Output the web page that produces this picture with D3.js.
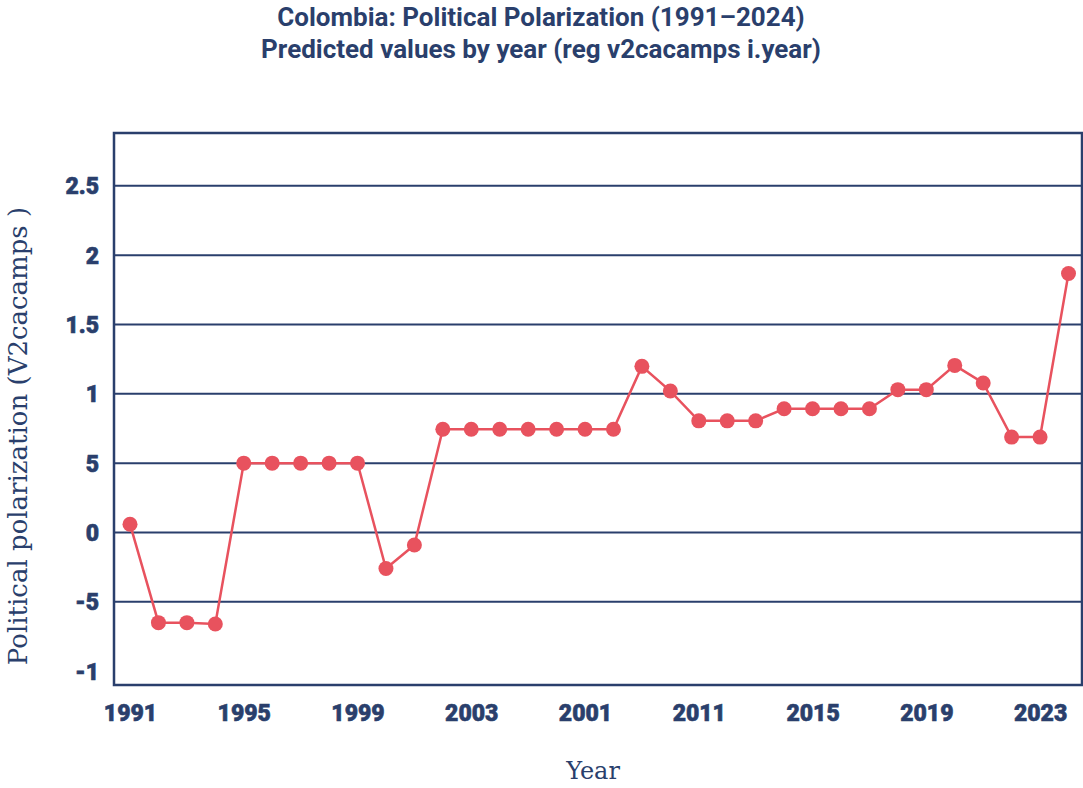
<!DOCTYPE html>
<html><head><meta charset="utf-8">
<script src="https://cdn.jsdelivr.net/npm/d3@7"></script>
<style>body{margin:0;background:#fff}</style>
</head><body>
<svg id="c" width="1083" height="788"></svg>
<script>
const years = d3.range(1991, 2025);
const values = [0.06, -0.65, -0.65, -0.66, 0.50, 0.50, 0.50, 0.50, 0.50, -0.26, -0.09,
  0.745, 0.745, 0.745, 0.745, 0.745, 0.745, 0.745, 1.198, 1.02, 0.805, 0.805, 0.805,
  0.892, 0.892, 0.892, 0.892, 1.03, 1.03, 1.205, 1.078, 0.688, 0.688, 1.868];
const xTickValues = [1991, 1995, 1999, 2003, 2007, 2011, 2015, 2019, 2023];
const xTickLabels = ["1991", "1995", "1999", "2003", "2001", "2011", "2015", "2019", "2023"];
const yTickValues = [2.5, 2, 1.5, 1, 0.5, 0, -0.5, -1];
const yTickLabels = ["2.5", "2", "1.5", "1", "5", "0", "-5", "-1"];
const gridValues = [2.5, 2, 1.5, 1, 0.5, 0, -0.5];
const titleLines = ["Colombia: Political Polarization (1991\u20132024)", "Predicted values by year (reg v2cacamps i.year)"];

const navy = "#2a3f6c", red = "#e8525e";
const svg = d3.select("#c");
const L = 114, R = 1082, T = 133, B = 685;
const x = d3.scaleLinear().domain([1991, 2024]).range([130, 1068.5]);
const y = d3.scaleLinear().domain([0, 2.5]).range([532.5, 185.8]);

// titles
svg.selectAll("text.title").data(titleLines).join("text")
  .attr("class", "title")
  .attr("x", 541).attr("y", (d, i) => 26 + i * 32)
  .attr("text-anchor", "middle")
  .attr("font-family", "Roboto, sans-serif")
  .attr("font-weight", 700).attr("font-size", 26)
  .attr("fill", navy).text(d => d);

// grid
svg.append("g").selectAll("line").data(gridValues).join("line")
  .attr("x1", L).attr("x2", R)
  .attr("y1", d => y(d)).attr("y2", d => y(d))
  .attr("stroke", navy).attr("stroke-width", 2);

// frame
svg.append("rect").attr("x", L).attr("y", T).attr("width", R - L).attr("height", B - T)
  .attr("fill", "none").attr("stroke", navy).attr("stroke-width", 2.5);

// y axis
const yAxis = d3.axisLeft(y).tickValues(yTickValues).tickSize(0).tickPadding(0)
  .tickFormat((d, i) => yTickLabels[i]);
const gy = svg.append("g").attr("transform", `translate(${L - 15},0)`).call(yAxis);
gy.select(".domain").remove();
gy.selectAll("text").attr("font-family", "Roboto, sans-serif").attr("font-weight", 900)
  .attr("font-size", 23).attr("fill", navy).attr("stroke", navy).attr("stroke-width", 0.6)
  .attr("dy", "0.35em");

// x axis
const xAxis = d3.axisBottom(x).tickValues(xTickValues).tickSize(0).tickPadding(0)
  .tickFormat((d, i) => xTickLabels[i]);
const gx = svg.append("g").attr("transform", `translate(0,${B + 36})`).call(xAxis);
gx.select(".domain").remove();
gx.selectAll("text").attr("font-family", "Roboto, sans-serif").attr("font-weight", 900)
  .attr("font-size", 23).attr("fill", navy).attr("stroke", navy).attr("stroke-width", 0.6)
  .attr("dy", "0");

// axis titles
svg.append("text").attr("x", 593).attr("y", 779).attr("text-anchor", "middle")
  .attr("font-family", "DejaVu Serif, serif").attr("font-size", 24).attr("fill", navy).text("Year");
svg.append("text").attr("transform", "translate(27,436) rotate(-90)").attr("text-anchor", "middle")
  .attr("font-family", "DejaVu Serif, serif").attr("font-size", 26).attr("fill", navy)
  .text("Political polarization (V2cacamps )");

// line + points
const data = years.map((yr, i) => ({ yr, v: values[i] }));
svg.append("path").datum(data)
  .attr("d", d3.line().x(d => x(d.yr)).y(d => y(d.v)))
  .attr("fill", "none").attr("stroke", red).attr("stroke-width", 2.5);
svg.append("g").selectAll("circle").data(data).join("circle")
  .attr("cx", d => x(d.yr)).attr("cy", d => y(d.v)).attr("r", 7.5).attr("fill", red);
</script>
</body></html>
